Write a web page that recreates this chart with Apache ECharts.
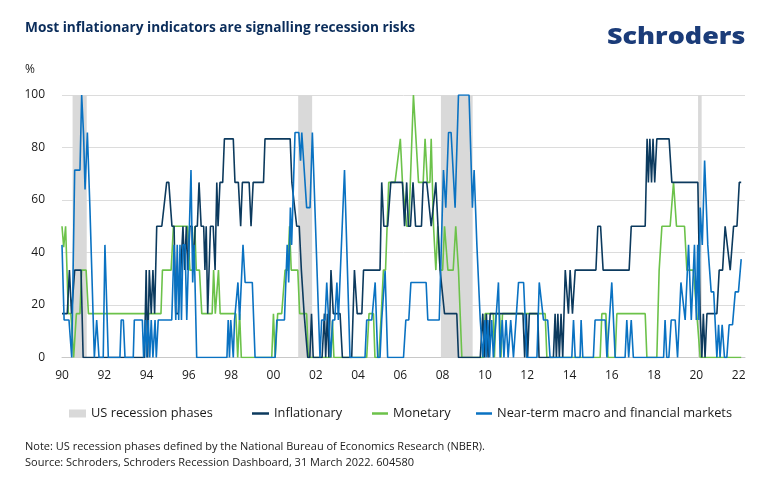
<!DOCTYPE html>
<html><head><meta charset="utf-8">
<script src="https://cdn.jsdelivr.net/npm/echarts@6/dist/echarts.min.js"></script>
<style>html,body{margin:0;padding:0;background:#fff}#c{width:770px;height:491px}</style>
</head><body><div id="c"></div>
<script>
var tickYears = [1990,1992,1994,1996,1998,2000,2002,2004,2006,2008,2010,2012,2014,2016,2018,2020,2022];
var recessionStart = [1990.5, 2001.17, 2007.92, 2020.08];
var recessionEnd   = [1991.17, 2001.83, 2009.42, 2020.25];

var inflationary = [
[1990.0,16.7],[1990.25,16.7],[1990.35,33.3],[1990.45,16.7],[1990.6,33.3],[1990.9,33.3],[1991.0,0],
[1993.9,0],[1993.98,33.3],[1994.05,0],[1994.13,33.3],[1994.22,16.7],[1994.3,33.3],[1994.38,16.7],[1994.48,50],[1994.72,50],[1994.95,66.7],[1995.05,66.7],[1995.2,50],[1995.3,50],[1995.38,16.7],[1995.5,16.7],
[1995.62,33.3],[1995.72,50],[1995.8,33.3],[1995.88,50],[1995.95,33.3],[1996.05,50],[1996.15,50],[1996.22,33.3],[1996.3,50],[1996.4,50],[1996.48,66.7],[1996.58,50],[1996.7,50],[1996.76,33.3],[1996.82,50],[1996.89,16.7],[1996.95,16.7],[1997.02,50],[1997.15,50],[1997.24,33.3],[1997.32,66.7],[1997.38,50],[1997.47,66.7],[1997.6,66.7],[1997.68,83.3],[1998.1,83.3],[1998.18,66.7],[1998.34,66.7],[1998.45,50],[1998.53,66.7],[1998.85,66.7],[1998.94,50],[1999.04,66.7],[1999.53,66.7],[1999.6,83.3],[2000.79,83.3],[2000.87,66.7],[2000.96,66.7],[2001.1,50],[2001.22,50],[2001.32,33.3],[2001.45,16.7],[2001.62,0],
[2001.72,0],[2001.8,16.7],[2001.88,0],[2002.3,0],[2002.41,16.7],[2002.47,0],[2002.55,16.7],[2002.62,0],[2002.72,33.3],[2002.83,16.7],[2003.15,16.7],[2003.26,0],[2003.7,0],[2003.83,33.3],[2003.96,16.7],[2004.18,16.7],[2004.26,33.3],[2005.04,33.3],[2005.12,66.7],[2005.22,50],[2005.4,50],[2005.55,66.7],[2006.1,66.7],[2006.2,50],[2006.3,66.7],[2006.38,50],[2006.48,50],[2006.6,66.7],[2006.72,50],[2007.0,50],[2007.08,66.7],[2007.25,66.7],[2007.46,50],[2007.68,66.7],[2007.88,33.3],[2008.09,16.7],[2008.67,16.7],[2008.75,0],[2009.78,0],[2009.9,16.7],[2009.98,0],[2010.07,16.7],[2010.15,0],[2010.25,16.7],[2011.8,16.7],[2011.88,0],[2011.96,16.7],[2012.02,0],[2012.1,16.7],[2012.5,16.7],[2012.56,0],[2013.24,0],[2013.32,16.7],[2013.38,0],[2013.45,16.7],[2013.52,0],[2013.6,16.7],[2013.68,0],[2013.8,33.3],[2013.95,16.7],[2014.03,33.3],[2014.14,16.7],[2014.27,33.3],[2015.25,33.3],[2015.34,50],[2015.47,50],[2015.59,33.3],[2016.82,33.3],[2016.92,50],[2017.58,50],[2017.67,83.3],[2017.73,66.7],[2017.8,83.3],[2017.88,66.7],[2017.95,83.3],[2018.03,66.7],[2018.13,83.3],[2018.71,83.3],[2018.84,66.7],[2020.07,66.7],[2020.18,16.7],[2020.26,0],[2020.33,16.7],[2020.41,0],[2020.5,16.7],[2020.97,16.7],[2021.08,33.3],[2021.24,33.3],[2021.36,50],[2021.45,50],[2021.6,33.3],[2021.68,33.3],[2021.76,50],[2021.92,50],[2022.03,66.7],[2022.12,66.7]
];

var monetary = [
[1990.0,50],[1990.08,42],[1990.17,50],[1990.3,16.7],[1990.42,16.7],[1990.55,0],[1990.68,16.7],[1990.85,16.7],[1990.93,33.3],[1991.14,33.3],[1991.25,16.7],[1994.68,16.7],[1994.75,33.3],[1995.16,33.3],[1995.27,50],[1995.94,50],[1996.05,33.3],[1996.2,33.3],[1996.28,50],[1996.35,33.3],[1996.5,33.3],[1996.61,16.7],[1997.1,16.7],[1997.17,33.3],[1997.25,16.7],[1997.32,16.7],[1997.4,33.3],[1997.48,16.7],[1998.22,16.7],[1998.31,0],[1998.4,16.7],[1998.48,0],[1999.92,0],[2000.0,16.7],[2000.08,0],[2000.2,16.7],[2000.39,16.7],[2000.55,33.3],[2000.68,33.3],[2000.76,50],[2000.84,33.3],[2001.15,33.3],[2001.24,16.7],[2001.57,16.7],[2001.65,0],[2002.72,0],[2002.79,14],[2002.86,0],[2004.41,0],[2004.52,16.7],[2004.73,16.7],[2004.8,0],[2004.98,0],[2005.1,16.7],[2005.2,33.3],[2005.3,33.3],[2005.45,66.7],[2005.75,66.7],[2006.0,83.3],[2006.1,66.7],[2006.3,50],[2006.4,50],[2006.62,100],[2006.86,66.7],[2007.08,66.7],[2007.17,83.3],[2007.28,66.7],[2007.4,66.7],[2007.46,83.3],[2007.57,50],[2007.68,33.3],[2007.77,50],[2007.88,33.3],[2008.0,33.3],[2008.09,50],[2008.25,33.3],[2008.5,33.3],[2008.62,50],[2008.75,33.3],[2008.91,0],[2009.93,0],[2010.01,16.7],[2010.4,16.7],[2010.45,0],[2010.52,16.7],[2010.7,16.7],[2010.76,0],[2010.83,16.7],[2012.85,16.7],[2012.93,0],[2015.45,0],[2015.53,16.7],[2015.72,16.7],[2015.82,0],[2016.16,0],[2016.24,16.7],[2017.58,16.7],[2017.66,0],[2018.13,0],[2018.24,33.3],[2018.37,50],[2018.76,50],[2018.92,66.7],[2018.98,66.7],[2019.06,50],[2019.44,50],[2019.55,33.3],[2019.86,33.3],[2020.02,16.7],[2020.18,0],[2022.12,0]
];

var nearTerm = [
[1990.0,42.9],[1990.1,14.3],[1990.33,14.3],[1990.46,0],[1990.6,71.4],[1990.85,71.4],[1990.93,100],[1991.02,85],[1991.09,64],[1991.2,85.7],[1991.25,85.7],[1991.32,57.1],[1991.4,57.1],[1991.53,0],[1991.64,14.3],[1991.75,0],[1991.95,0],[1992.03,42.9],[1992.1,42.9],[1992.19,0],[1992.74,0],[1992.8,14.3],[1992.9,14.3],[1992.98,0],[1993.37,0],[1993.42,14.3],[1993.8,14.3],[1993.86,0],[1993.94,14.3],[1994.0,0],[1994.08,14.3],[1994.15,0],[1994.22,14.3],[1994.3,0],[1994.4,14.3],[1994.46,0],[1994.55,14.3],[1995.19,14.3],[1995.3,42.9],[1995.38,14.3],[1995.45,42.9],[1995.52,14.3],[1995.58,42.9],[1995.65,14.3],[1995.72,42.9],[1995.82,42.9],[1995.9,14.3],[1995.98,14.3],[1996.1,71.4],[1996.18,28.6],[1996.25,42.9],[1996.37,0],
[1997.8,0],[1997.86,14.3],[1997.92,0],[1997.98,14.3],[1998.05,14.3],[1998.1,0],[1998.16,14.3],[1998.25,14.3],[1998.32,28.6],[1998.4,14.3],[1998.56,42.9],[1998.66,28.6],[1999.0,28.6],[1999.13,0],[2000.08,0],[2000.16,14.3],[2000.52,14.3],[2000.65,42.9],[2000.72,28.6],[2000.8,57.1],[2000.86,42.9],[2001.02,85.7],[2001.2,85.7],[2001.28,75],[2001.34,85.7],[2001.42,85.7],[2001.57,57.1],[2001.73,57.1],[2001.84,85.7],[2002.2,0],[2002.28,14.3],[2002.44,14.3],[2002.52,28.6],[2002.6,28.6],[2002.7,0],[2002.8,14.3],[2002.9,14.3],[2003.0,28.6],[2003.07,14.3],[2003.15,14.3],[2003.36,71.4],[2003.62,0],[2004.33,0],[2004.41,14.3],[2004.65,14.3],[2004.81,28.6],[2004.93,0],[2005.04,0],[2005.12,14.3],[2005.2,14.3],[2005.28,33],[2005.4,0],[2006.15,0],[2006.26,14.3],[2006.4,14.3],[2006.5,28.6],[2007.22,28.6],[2007.3,14.3],[2007.84,14.3],[2008.04,71.4],[2008.15,57.1],[2008.28,85.7],[2008.4,85.7],[2008.59,57.1],[2008.75,100],[2009.25,100],[2009.41,57.1],[2009.49,71.4],[2009.62,42.9],[2009.78,14.3],[2009.9,0],[2010.0,14.3],[2010.06,0],[2010.14,14.3],[2010.22,0],[2010.32,14.3],[2010.4,0],[2010.64,28.6],[2010.72,0],[2010.82,14.3],[2010.9,0],[2011.0,14.3],[2011.1,0],[2011.22,14.3],[2011.35,0],[2011.59,28.6],[2011.83,28.6],[2011.98,0],[2012.46,0],[2012.57,28.6],[2012.62,28.6],[2012.77,14.3],[2012.97,14.3],[2013.08,0],[2014.11,0],[2014.19,14.3],[2014.27,0],[2014.5,0],[2014.55,14.3],[2014.63,0],[2015.13,0],[2015.21,14.3],[2015.69,14.3],[2015.77,0],[2015.85,0],[2016.0,28.6],[2016.16,0],[2016.63,0],[2016.71,14.3],[2016.8,0],[2016.92,14.3],[2017.02,0],[2018.45,0],[2018.52,14.3],[2018.6,0],[2018.7,0],[2018.81,14.3],[2019.0,14.3],[2019.11,0],[2019.16,0],[2019.27,28.6],[2019.35,28.6],[2019.47,14.3],[2019.63,42.9],[2019.76,14.3],[2019.91,42.9],[2020.0,14.3],[2020.06,42.9],[2020.12,14.3],[2020.18,57.1],[2020.28,42.9],[2020.39,75],[2020.54,42.9],[2020.7,25],[2020.82,25],[2020.97,0],[2021.05,12.5],[2021.12,0],[2021.22,12.5],[2021.33,0],[2021.44,0],[2021.55,12.5],[2021.71,12.5],[2021.84,25],[2021.99,25],[2022.12,37.5]
];

var FONT = 'Open Sans';
var TXT = '#1a1a1a';
var chart = echarts.init(document.getElementById('c'), null, {renderer:'canvas'});
var recAreas = recessionStart.map(function(s,i){ return [{xAxis:s},{xAxis:recessionEnd[i]}]; });

function legendItem(left, name, w, h){
  return {left:left, top:407, padding:0, itemWidth:w, itemHeight:h, icon:'rect',
    textStyle:{fontFamily:FONT, fontSize:12.8, color:TXT},
    data:[name]};
}

chart.setOption({
  animation:false,
  textStyle:{fontFamily:FONT},
  grid:{left:62, right:25, top:95, bottom:133.5, containLabel:false},
  graphic:[
    {type:'text', left:25, top:21, style:{text:'Most inflationary indicators are signalling recession risks', font:'bold 13.7px "Open Sans"', fill:'#0b2d5b'}},
    {type:'text', x:607, y:26, scaleX:1.17, scaleY:1, style:{text:'Schroders', font:'800 23px "Open Sans"', fill:'#1b3c79'}},
    {type:'text', left:25, top:64, style:{text:'%', font:'12px "Open Sans"', fill:TXT}},
    {type:'text', left:25, top:441, style:{text:'Note: US recession phases defined by the National Bureau of Economics Research (NBER).', font:'11px "Open Sans"', fill:TXT}},
    {type:'text', left:25, top:457, style:{text:'Source: Schroders, Schroders Recession Dashboard, 31 March 2022. 604580', font:'11px "Open Sans"', fill:TXT}}
  ],
  legend:[
    legendItem(69, 'US recession phases', 17, 8),
    legendItem(252, 'Inflationary', 17, 2.5),
    legendItem(372, 'Monetary', 16, 2.5),
    legendItem(476, 'Near-term macro and financial markets', 16, 2.5)
  ],
  xAxis:{type:'value', min:1990, max:2022.3, interval:2,
    axisLine:{lineStyle:{color:'#c8c8c8'}}, axisTick:{show:false}, splitLine:{show:false},
    axisLabel:{showMaxLabel:false, margin:12, fontSize:12, color:TXT, fontFamily:FONT,
      formatter:function(v){ return tickYears.indexOf(v)>=0 ? String(v).slice(2) : ''; }}},
  yAxis:{type:'value', min:0, max:100, interval:20,
    axisLine:{show:false}, axisTick:{show:false},
    splitLine:{lineStyle:{color:'#dcdcdc'}},
    axisLabel:{margin:17, fontSize:12, color:TXT, fontFamily:FONT}},
  series:[
    {name:'US recession phases', type:'line', data:[], itemStyle:{color:'#d9d9d9'}, lineStyle:{color:'#d9d9d9'},
     markArea:{silent:true, itemStyle:{color:'#d9d9d9'}, data:recAreas}},
    {name:'Monetary', type:'line', data:monetary, showSymbol:false, lineStyle:{width:1.6, color:'#6cc24a'}, itemStyle:{color:'#6cc24a'}},
    {name:'Inflationary', type:'line', data:inflationary, showSymbol:false, lineStyle:{width:1.6, color:'#0c3a5e'}, itemStyle:{color:'#0c3a5e'}},
    {name:'Near-term macro and financial markets', type:'line', data:nearTerm, showSymbol:false, lineStyle:{width:1.6, color:'#0a72c2'}, itemStyle:{color:'#0a72c2'}}
  ]
});
</script></body></html>
